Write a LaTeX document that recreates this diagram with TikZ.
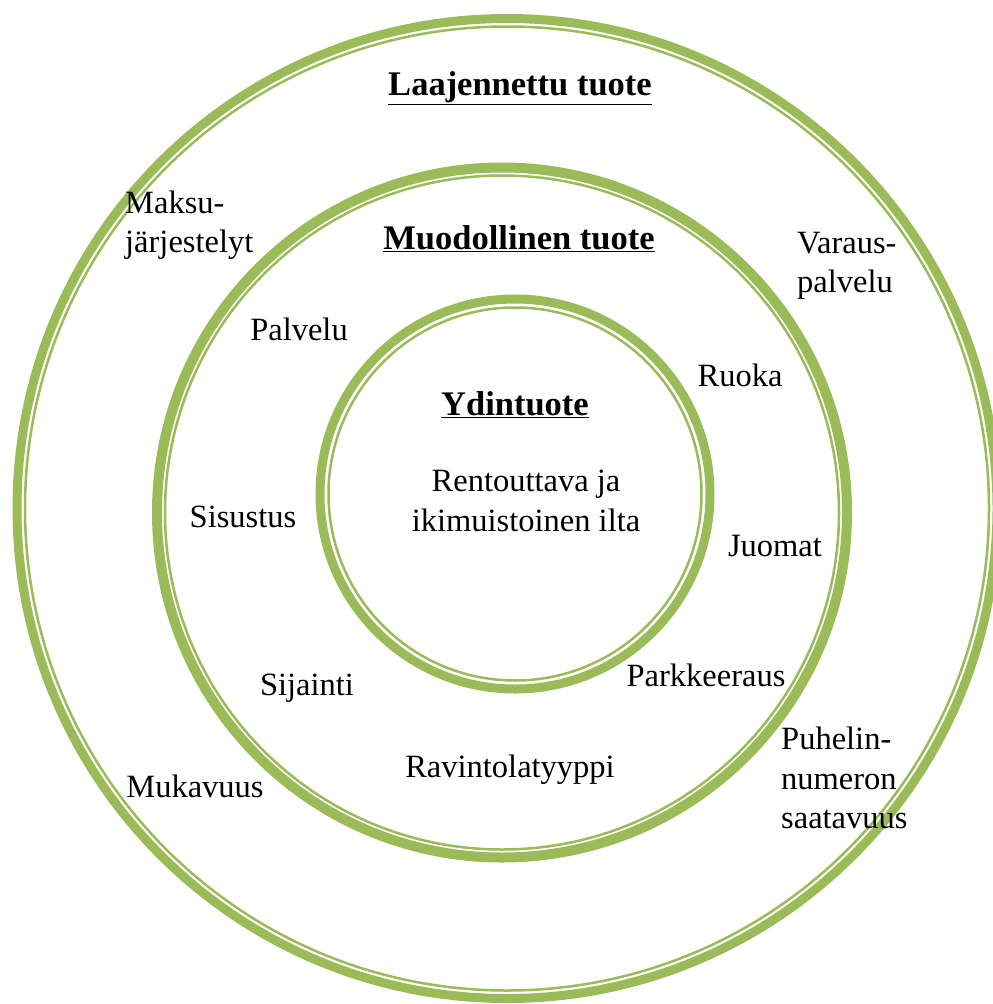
\documentclass[tikz,border=0pt]{standalone}
\usepackage{fontspec}
\setmainfont{Liberation Serif}
\definecolor{ringgreen}{HTML}{9BBB59}
\begin{document}
\begin{tikzpicture}[x=1pt,y=-1pt,
  thickring/.style={draw=ringgreen,line width=9pt},
  thinring/.style={draw=ringgreen,line width=2.5pt},
  lbl/.style={inner sep=0pt,font=\fontsize{32.5}{39.5}\selectfont},
  head/.style={inner sep=0pt,font=\fontsize{34.5}{40}\selectfont\bfseries}]
\useasboundingbox (0,0) rectangle (993,1004);
\clip (0,0) rectangle (993,1004);
% outer ring
\coordinate (c1) at (507,508.5);
\draw[thickring] (c1) circle[radius=490];
\draw[thinring] (c1) circle[radius=482];
% middle ring
\coordinate (c2) at (502,512.5);
\draw[thickring,line width=10pt] (c2) circle[radius=345];
\draw[thinring] (c2) circle[radius=337];
% inner ring
\coordinate (c3) at (515,494);
\draw[thickring,line width=9pt] (c3) circle[radius=195];
\draw[thinring] (c3) circle[radius=186.5];
% headings
\node[head] (laaj) at (520,88) {\underline{Laajennettu tuote}};
\node[head] (muod) at (519,239) {\underline{Muodollinen tuote}};
\node[head] (ydin) at (515,405) {\underline{Ydintuote}};
% core
\node[lbl,align=center] (core) at (526,501) {Rentouttava ja\\ikimuistoinen ilta};
% outer labels
\node[lbl,align=left,anchor=west] (maksu) at (125,225) {Maksu-\\järjestelyt};
\node[lbl,align=left,anchor=west] (varaus) at (797,266) {Varaus-\\palvelu};
\node[lbl,align=left,anchor=west] (puhelin) at (781,778) {Puhelin-\\numeron\\saatavuus};
\node[lbl] (mukavuus) at (195,786) {Mukavuus};
% middle labels
\node[lbl] (palvelu) at (299,329) {Palvelu};
\node[lbl] (ruoka) at (740,375) {Ruoka};
\node[lbl] (sisustus) at (243,517) {Sisustus};
\node[lbl] (juomat) at (775,546) {Juomat};
\node[lbl] (parkki) at (706,675) {Parkkeeraus};
\node[lbl] (sijainti) at (307,688) {Sijainti};
\node[lbl] (ravintola) at (510,770) {Ravintolatyyppi};
\end{tikzpicture}
\end{document}
